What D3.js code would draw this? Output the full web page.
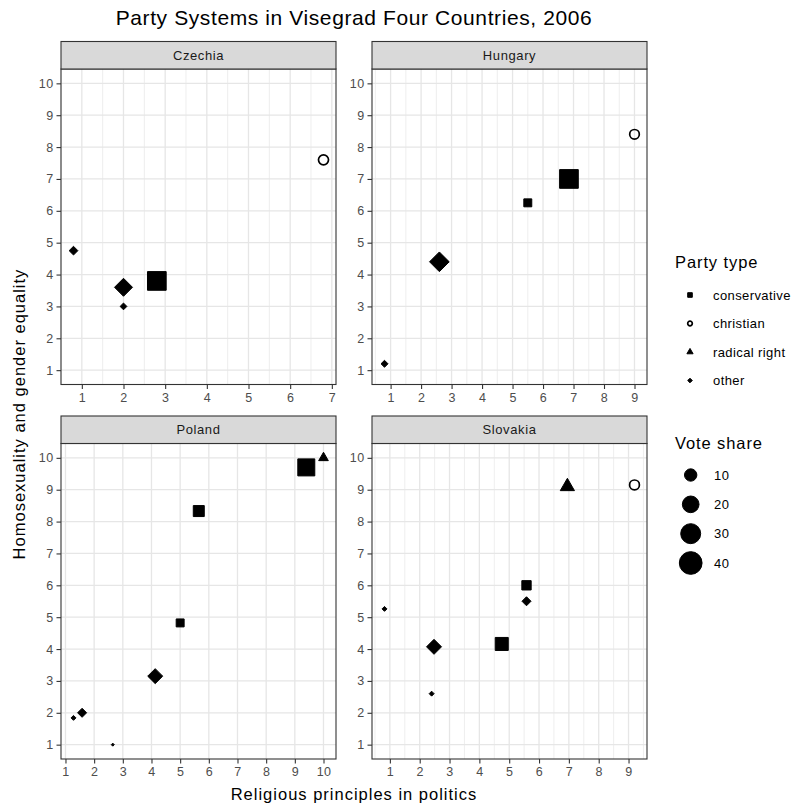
<!DOCTYPE html>
<html>
<head>
<meta charset="utf-8">
<script src="https://cdn.jsdelivr.net/npm/d3@7"></script>
<style>
  body { margin: 0; background: #ffffff; }
  svg { display: block; }
  text { font-family: "Liberation Sans", Arial, Helvetica, sans-serif; }
</style>
</head>
<body>
<svg id="chart" width="796" height="807"></svg>
<script>
// ---------------- DATA ----------------
const countries = ["Czechia", "Hungary", "Poland", "Slovakia"];
const partyTypes = ["conservative", "christian", "radical right", "other"];
const voteBreaks = [10, 20, 30, 40];
const yTickValues = [1, 2, 3, 4, 5, 6, 7, 8, 9, 10];

// Czechia
const czReligion = [0.8, 6.8, 2.0, 2.0, 2.8];
const czEquality = [4.75, 7.6, 3.6, 3.0, 3.8];
const czType = ["other", "christian", "other", "other", "conservative"];
const czVote = [4.2, 6.0, 23.8, 2.1, 25.9];

// Hungary
const huReligion = [0.8, 2.6, 5.5, 6.85, 9.0];
const huEquality = [1.2, 4.4, 6.25, 7.0, 8.4];
const huType = ["other", "other", "conservative", "conservative", "christian"];
const huVote = [2.3, 29.1, 3.3, 25.9, 5.4];

// Poland
const plReligion = [1.28, 1.58, 2.65, 4.13, 5.0, 5.65, 9.4, 10.0];
const plEquality = [1.84, 2.0, 1.0, 3.15, 4.82, 8.33, 9.7, 10.0];
const plType = ["other", "other", "other", "other", "conservative", "conservative", "conservative", "radical right"];
const plVote = [0.8, 4.6, 0.1, 15.7, 3.3, 7.5, 20.9, 2.5];

// Slovakia
const skReligion = [0.82, 2.48, 2.4, 4.75, 5.58, 5.58, 6.95, 9.2];
const skEquality = [5.26, 4.07, 2.6, 4.16, 6.0, 5.5, 9.1, 9.15];
const skType = ["other", "other", "other", "conservative", "conservative", "other", "radical right", "christian"];
const skVote = [0.8, 15.7, 0.8, 11.3, 5.0, 4.6, 6.8, 5.7];

// ---------------- BUILD ----------------
function rows(rel, eq, type, vote) {
  return rel.map((r, i) => ({ x: r, y: eq[i], type: type[i], vote: vote[i] }));
}
const panelsData = [
  rows(czReligion, czEquality, czType, czVote),
  rows(huReligion, huEquality, huType, huVote),
  rows(plReligion, plEquality, plType, plVote),
  rows(skReligion, skEquality, skType, skVote)
];

const FONT = '"Liberation Sans", Arial, Helvetica, sans-serif';
const svg = d3.select("#chart");

const colLeft = [61, 372];
const rowTop = [41.5, 416];
const panelW = 275;
const stripH = 27.5;
const panelH = 315.5;

function expand(ext) {
  const d = (ext[1] - ext[0]) * 0.05;
  return [ext[0] - d, ext[1] + d];
}
const allY = panelsData.flat().map(d => d.y);
const yDomain = expand(d3.extent(allY));

const sizeScale = d3.scaleSqrt().domain([0, 45]).range([2, 24]);

// custom symbol types (size = diameter / side in px)
const symSquare = { draw(ctx, s) { const h = s / 2; ctx.rect(-h, -h, s, s); } };
const symDiamond = { draw(ctx, s) { const h = s / 2; ctx.moveTo(0, -h); ctx.lineTo(h, 0); ctx.lineTo(0, h); ctx.lineTo(-h, 0); ctx.closePath(); } };
const symTriangle = { draw(ctx, s) {
  ctx.moveTo(0, -0.778 * s); ctx.lineTo(0.673 * s, 0.389 * s); ctx.lineTo(-0.673 * s, 0.389 * s); ctx.closePath(); } };
const symCircle = { draw(ctx, s) { const r = s / 2; ctx.moveTo(r, 0); ctx.arc(0, 0, r, 0, 2 * Math.PI); } };
const shapeOf = { "conservative": symSquare, "christian": symCircle, "radical right": symTriangle, "other": symDiamond };

function drawMark(g, type, D, x, y) {
  const p = d3.symbol().type(shapeOf[type]).size(D)();
  const el = g.append("path").attr("d", p).attr("transform", `translate(${x},${y})`);
  if (type === "christian") {
    el.attr("fill", "none").attr("stroke", "#000").attr("stroke-width", 1.7);
  } else {
    el.attr("fill", "#000").attr("stroke", "#000").attr("stroke-width", 1);
  }
}

// Title
svg.append("text")
  .attr("x", colLeft[0] + (colLeft[1] + panelW - colLeft[0]) / 2)
  .attr("y", 25)
  .attr("text-anchor", "middle")
  .attr("font-size", 21)
  .attr("letter-spacing", 0.6)
  .attr("fill", "#000")
  .text("Party Systems in Visegrad Four Countries, 2006");

countries.forEach((country, i) => {
  const col = i % 2, row = Math.floor(i / 2);
  const x0 = colLeft[col];
  const sTop = rowTop[row];
  const pTop = sTop + stripH;
  const data = panelsData[i];
  const xDomain = expand(d3.extent(data, d => d.x));
  const xs = d3.scaleLinear().domain(xDomain).range([x0, x0 + panelW]);
  const ys = d3.scaleLinear().domain(yDomain).range([pTop + panelH, pTop]);

  const g = svg.append("g");
  g.append("rect").attr("x", x0).attr("y", pTop).attr("width", panelW).attr("height", panelH).attr("fill", "#fff");

  // grid
  const xMajor = d3.range(Math.ceil(xDomain[0]), Math.floor(xDomain[1]) + 1);
  const xMinor = d3.range(Math.ceil(xDomain[0] * 2) / 2, xDomain[1], 1).filter(v => Math.abs(v - Math.round(v)) > 0.1);
  const yMinor = d3.range(Math.ceil(yDomain[0] * 2) / 2, yDomain[1], 1).filter(v => Math.abs(v - Math.round(v)) > 0.1);
  const gridC = "#e6e6e6";
  yMinor.forEach(v => g.append("line").attr("x1", x0).attr("x2", x0 + panelW).attr("y1", ys(v)).attr("y2", ys(v)).attr("stroke", gridC).attr("stroke-width", 0.7));
  xMinor.forEach(v => g.append("line").attr("y1", pTop).attr("y2", pTop + panelH).attr("x1", xs(v)).attr("x2", xs(v)).attr("stroke", gridC).attr("stroke-width", 0.7));
  yTickValues.forEach(v => g.append("line").attr("x1", x0).attr("x2", x0 + panelW).attr("y1", ys(v)).attr("y2", ys(v)).attr("stroke", gridC).attr("stroke-width", 1.3));
  xMajor.forEach(v => g.append("line").attr("y1", pTop).attr("y2", pTop + panelH).attr("x1", xs(v)).attr("x2", xs(v)).attr("stroke", gridC).attr("stroke-width", 1.3));

  // points
  const pg = g.append("g");
  data.forEach(d => drawMark(pg, d.type, sizeScale(d.vote), xs(d.x), ys(d.y)));

  // border
  g.append("rect").attr("x", x0).attr("y", pTop).attr("width", panelW).attr("height", panelH)
    .attr("fill", "none").attr("stroke", "#333333").attr("stroke-width", 1.1);

  // strip
  g.append("rect").attr("x", x0).attr("y", sTop).attr("width", panelW).attr("height", stripH)
    .attr("fill", "#d9d9d9").attr("stroke", "#333333").attr("stroke-width", 1.1);
  g.append("text").attr("x", x0 + panelW / 2).attr("y", sTop + stripH / 2 + 4.6)
    .attr("text-anchor", "middle").attr("font-size", 13).attr("letter-spacing", 0.6)
    .attr("fill", "#1a1a1a").text(country);

  // axes
  const xAxis = d3.axisBottom(xs).tickValues(xMajor).tickFormat(d3.format("d")).tickSize(4.5).tickPadding(4);
  const yAxis = d3.axisLeft(ys).tickValues(yTickValues).tickFormat(d3.format("d")).tickSize(4.5).tickPadding(3);
  const xa = g.append("g").attr("transform", `translate(0,${pTop + panelH})`).call(xAxis);
  const ya = g.append("g").attr("transform", `translate(${x0},0)`).call(yAxis);
  [xa, ya].forEach(a => {
    a.select(".domain").remove();
    a.selectAll(".tick line").attr("stroke", "#333333").attr("stroke-width", 1.1);
    a.selectAll(".tick text").attr("fill", "#4d4d4d").attr("font-size", 12.5)
      .attr("letter-spacing", 0.4).attr("font-family", FONT);
  });
});

// axis titles
svg.append("text")
  .attr("x", colLeft[0] + (colLeft[1] + panelW - colLeft[0]) / 2)
  .attr("y", 800)
  .attr("text-anchor", "middle").attr("font-size", 16.5).attr("letter-spacing", 1.0)
  .attr("fill", "#000").text("Religious principles in politics");

svg.append("text")
  .attr("transform", `translate(25, ${rowTop[0] + stripH + (rowTop[1] + stripH + panelH - rowTop[0] - stripH) / 2}) rotate(-90)`)
  .attr("text-anchor", "middle").attr("font-size", 16.5).attr("letter-spacing", 1.0)
  .attr("fill", "#000").text("Homosexuality and gender equality");

// legends
const lg = svg.append("g");
lg.append("text").attr("x", 675).attr("y", 268).attr("font-size", 16.5).attr("letter-spacing", 0.9)
  .attr("fill", "#000").text("Party type");
const keyY = d3.scalePoint().domain(partyTypes).range([295, 380.5]);
partyTypes.forEach(t => {
  drawMark(lg, t, 4.6, 690, keyY(t));
  lg.append("text").attr("x", 713).attr("y", keyY(t) + 4.6).attr("font-size", 13).attr("letter-spacing", 0.4)
    .attr("fill", "#000").text(t);
});

lg.append("text").attr("x", 675).attr("y", 449).attr("font-size", 16.5).attr("letter-spacing", 0.9)
  .attr("fill", "#000").text("Vote share");
const voteY = d3.scalePoint().domain(voteBreaks).range([475, 563]);
voteBreaks.forEach(v => {
  lg.append("circle").attr("cx", 690.7).attr("cy", voteY(v)).attr("r", sizeScale(v) / 2)
    .attr("fill", "#000").attr("stroke", "#000").attr("stroke-width", 1);
  lg.append("text").attr("x", 714).attr("y", voteY(v) + 4.6).attr("font-size", 13).attr("letter-spacing", 0.4)
    .attr("fill", "#000").text(v);
});
</script>
</body>
</html>
